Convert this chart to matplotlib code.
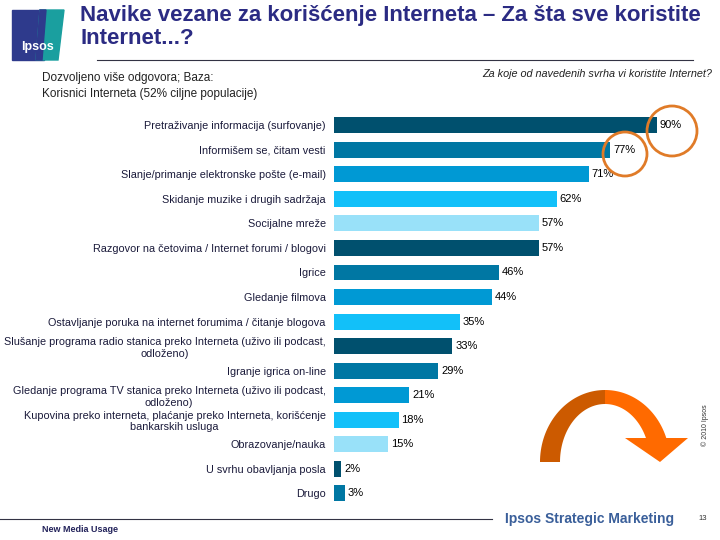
import matplotlib
matplotlib.use('Agg')

import matplotlib.pyplot as plt
from matplotlib.patches import Ellipse, Polygon, Rectangle
import numpy as np

plt.rcParams['font.family'] = ['Liberation Sans', 'DejaVu Sans']

# data
categories = [
    "Pretraživanje informacija (surfovanje)",
    "Informišem se, čitam vesti",
    "Slanje/primanje elektronske pošte (e-mail)",
    "Skidanje muzike i drugih sadržaja",
    "Socijalne mreže",
    "Razgovor na četovima / Internet forumi / blogovi",
    "Igrice",
    "Gledanje filmova",
    "Ostavljanje poruka na internet forumima / čitanje blogova",
    "Slušanje programa radio stanica preko Interneta (uživo ili podcast,\nodloženo)",
    "Igranje igrica on-line",
    "Gledanje programa TV stanica preko Interneta (uživo ili podcast,\nodloženo)",
    "Kupovina preko interneta, plaćanje preko Interneta, korišćenje\nbankarskih usluga",
    "Obrazovanje/nauka",
    "U svrhu obavljanja posla",
    "Drugo",
]
values = [90, 77, 71, 62, 57, 57, 46, 44, 35, 33, 29, 21, 18, 15, 2, 3]

DARK, MID, BLUE, BRIGHT, LIGHT = '#00506e', '#0077a3', '#0099d4', '#12c0f9', '#99e1f9'
bar_colors = [DARK, MID, BLUE, BRIGHT, LIGHT, DARK, MID, BLUE, BRIGHT,
              DARK, MID, BLUE, BRIGHT, LIGHT, DARK, MID]

W, H = 720, 540
fig = plt.figure(figsize=(7.2, 5.4), dpi=100)

# bar chart area (pixel measured)
left_px, top_px, bot_px, right_px = 334, 113, 505.6, 693
ax = fig.add_axes([left_px / W, 1 - bot_px / H, (right_px - left_px) / W, (bot_px - top_px) / H])
y = np.arange(len(values))
ax.barh(y, values, height=0.65, color=bar_colors)
ax.set_xlim(0, 100)
ax.set_ylim(len(values) - 0.5, -0.5)
ax.set_yticks(y)
ax.set_yticklabels(categories, fontsize=7.8, color='#1a1a3a', multialignment='center', linespacing=1.2)
ax.tick_params(axis='y', length=0, pad=6)
ax.set_xticks([])
for s in ax.spines.values():
    s.set_visible(False)
for yi, v in zip(y, values):
    ax.text(v + 0.8, yi, f"{v}%", va='center', ha='left', fontsize=8, color='black')

# decoration layer in pixel coords
deco = fig.add_axes([0, 0, 1, 1], zorder=5)
deco.set_xlim(0, W)
deco.set_ylim(H, 0)
deco.axis('off')
deco.patch.set_alpha(0)

# logo
deco.add_patch(Rectangle((12, 10), 32, 50, color='#2e3a8c'))
deco.add_patch(Polygon([(40, 10), (64, 10), (58, 60), (36, 60)], color='#1a9f9f'))
deco.add_patch(Polygon([(40, 10), (46, 10), (42, 60), (36, 60)], color='#2e3a8c'))
deco.text(37, 47, "Ipsos", color='white', fontsize=9, fontweight='bold', ha='center', va='center')

# title
deco.text(80, 5, "Navike vezane za korišćenje Interneta – Za šta sve koristite\nInternet...?",
          color='#2b2b83', fontsize=16, fontweight='bold', ha='left', va='top', linespacing=1.15)
deco.plot([97, 693], [60, 60], color='#333344', lw=0.8)

deco.text(42, 86, "Dozvoljeno više odgovora; Baza:\nKorisnici Interneta (52% ciljne populacije)",
          fontsize=8.5, color='#222222', ha='left', va='center', linespacing=1.35)
deco.text(712, 74, "Za koje od navedenih svrha vi koristite Internet?",
          fontsize=7.8, style='italic', color='#222222', ha='right', va='center')

# orange circles
deco.add_patch(Ellipse((672, 131), 50, 50, fill=False, ec='#e07b28', lw=2))
deco.add_patch(Ellipse((625, 154), 44, 44, fill=False, ec='#e07b28', lw=2))

# curved arrow
cx, cy = 605, 462
ao, bo, ai, bi = 65, 72, 45, 58
t_end_o = np.arcsin(24 / bo)
t_end_i = np.arcsin(24 / bi)
t_o = np.linspace(np.pi, np.pi / 2, 40)
t_i = np.linspace(np.pi / 2, np.pi, 40)
dark_half = [(cx + ao * np.cos(t), cy - bo * np.sin(t)) for t in t_o] + \
            [(cx + ai * np.cos(t), cy - bi * np.sin(t)) for t in t_i]
deco.add_patch(Polygon(dark_half, color='#cc5a00', lw=0))
t_o2 = np.linspace(np.pi / 2, t_end_o, 40)
t_i2 = np.linspace(t_end_i, np.pi / 2, 40)
bright_half = [(cx + ao * np.cos(t), cy - bo * np.sin(t)) for t in t_o2] + \
              [(cx + ai * np.cos(t), cy - bi * np.sin(t)) for t in t_i2]
deco.add_patch(Polygon(bright_half, color='#ff6a00', lw=0))
deco.add_patch(Polygon([(625, 438), (688, 438), (660, 462)], color='#ff6a00', lw=0))

# footer
deco.plot([0, 492], [519, 519], color='#333344', lw=0.8)
deco.text(42, 529, "New Media Usage", fontsize=6.5, fontweight='bold', color='#22225a', ha='left', va='center')
deco.text(590, 519, "Ipsos Strategic Marketing", fontsize=10, fontweight='bold',
          color='#3a5f9a', ha='center', va='center')
deco.text(703, 518, "13", fontsize=5.5, color='#333333', ha='center', va='center')
deco.text(705, 425, "© 2010 Ipsos", fontsize=5, color='#333333', rotation=90, ha='center', va='center')

fig.savefig("out.png", dpi=100)
